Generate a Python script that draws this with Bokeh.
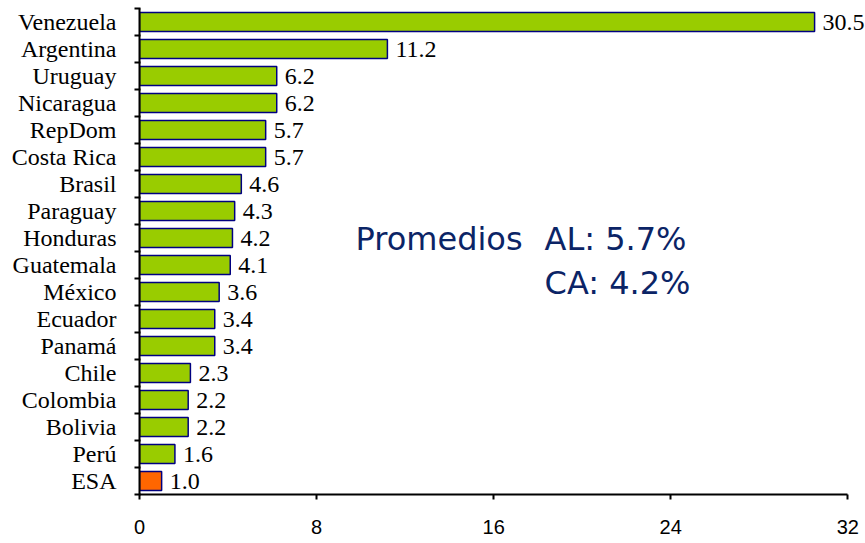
from bokeh.plotting import figure
from bokeh.models import Range1d, FixedTicker, ColumnDataSource, Label
from bokeh.core.properties import value
from bokeh.embed import file_html
from bokeh.resources import INLINE

countries = ["Venezuela", "Argentina", "Uruguay", "Nicaragua", "RepDom", "Costa Rica",
             "Brasil", "Paraguay", "Honduras", "Guatemala", "México", "Ecuador",
             "Panamá", "Chile", "Colombia", "Bolivia", "Perú", "ESA"]
values = [30.5, 11.2, 6.2, 6.2, 5.7, 5.7, 4.6, 4.3, 4.2, 4.1, 3.6, 3.4, 3.4, 2.3, 2.2, 2.2, 1.6, 1.0]
x_ticks = [0, 8, 16, 24, 32]
highlight = "ESA"

n = len(countries)
ypos = [i + 0.5 for i in range(n)]
colors = ["#ff6600" if c == highlight else "#99cc00" for c in countries]
labels = ["%.1f" % v for v in values]

src = ColumnDataSource(dict(y=ypos, v=values, c=colors, lab=labels))

p = figure(width=865, height=543, output_backend="svg", toolbar_location=None,
           x_range=Range1d(0, 32.8), y_range=Range1d(n, 0),
           min_border_left=139, min_border_right=0, min_border_top=8, min_border_bottom=49)
p.outline_line_color = None
p.xgrid.visible = False
p.ygrid.visible = False
p.background_fill_color = "white"

p.hbar(y="y", left=0, right="v", height=0.7, fill_color="c", line_color="#000080",
       line_width=1.5, source=src)

p.text(x="v", y="y", text="lab", source=src, x_offset=8, text_baseline="middle",
       text_font=value("Liberation Serif"), text_font_size="24px", text_color="black")

# x axis
xa = p.xaxis[0]
xa.ticker = FixedTicker(ticks=x_ticks, minor_ticks=[])
xa.bounds = (0, 32)
xa.axis_line_width = 2
xa.axis_line_color = "black"
xa.major_tick_out = 5
xa.major_tick_in = 0
xa.major_tick_line_width = 2
xa.minor_tick_line_color = None
xa.major_label_standoff = 20
xa.major_label_text_font = "Liberation Sans"
xa.major_label_text_font_size = "20px"
xa.major_label_text_color = "black"

# y axis: labels at centers, ticks at boundaries
ya = p.yaxis[0]
ya.ticker = FixedTicker(ticks=ypos, minor_ticks=list(range(n + 1)))
ya.major_label_overrides = {y: c for y, c in zip(ypos, countries)}
ya.axis_line_width = 2
ya.axis_line_color = "black"
ya.major_tick_line_color = None
ya.major_tick_out = 0
ya.major_tick_in = 0
ya.minor_tick_out = 5
ya.minor_tick_in = 1
ya.minor_tick_line_width = 2
ya.minor_tick_line_color = "black"
ya.major_label_standoff = 18
ya.major_label_text_font = "Liberation Serif"
ya.major_label_text_font_size = "24px"
ya.major_label_text_color = "black"

navy = "#0b2466"
p.add_layout(Label(x=9.76, y=8.52, text="Promedios", text_font="DejaVu Sans",
                   text_font_size="32px", text_color=navy, text_baseline="alphabetic"))
p.add_layout(Label(x=18.3, y=8.52, text="AL: 5.7%", text_font="DejaVu Sans",
                   text_font_size="32px", text_color=navy, text_baseline="alphabetic"))
p.add_layout(Label(x=18.3, y=10.15, text="CA: 4.2%", text_font="DejaVu Sans",
                   text_font_size="32px", text_color=navy, text_baseline="alphabetic"))

open("out.html", "w").write(file_html(p, INLINE))
